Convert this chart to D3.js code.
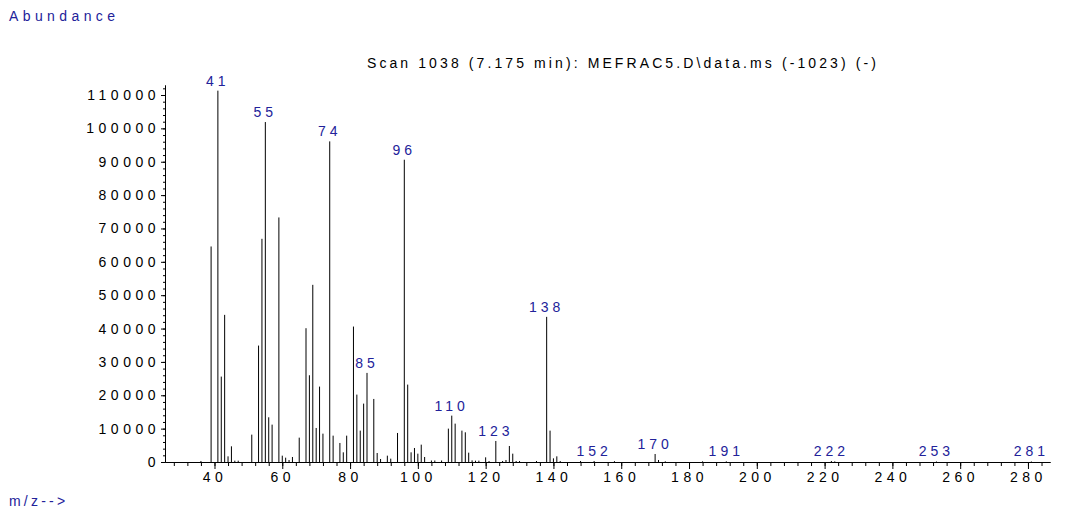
<!DOCTYPE html>
<html><head><meta charset="utf-8">
<script src="https://cdn.jsdelivr.net/npm/d3@7"></script>
<style>
body{margin:0;background:#fff;}
svg{display:block;}
text{font-family:"Liberation Sans",Arial,sans-serif;}
</style></head>
<body>
<svg id="chart" width="1067" height="515"></svg>
<script>
// ---- data ----
const mz = [36,39,41,42,43,44,45,46,47,51,53,54,55,56,57,59,60,61,62,63,65,67,68,69,70,71,72,74,75,77,78,79,81,82,83,84,85,87,88,89,91,92,94,96,97,98,99,100,101,102,104,105,107,109,110,111,113,114,115,116,117,118,120,121,123,125,126,127,128,129,130,135,138,139,140,141,142,148,152,158,170,171,173,184,191,222,223,253,281];
const abundance = [300,64600,111300,25600,44100,1700,4700,400,400,8200,34900,66900,101900,13400,11200,73300,1900,1300,600,1500,7300,40100,26000,53100,10200,22600,8500,96100,7900,5700,2900,7900,40600,20200,9400,17500,26700,18900,2700,900,1900,1000,8700,90600,23200,2900,4200,2500,5200,1500,450,450,450,10000,13900,11500,9400,8900,2800,500,400,400,1400,300,6300,300,600,4800,2500,300,300,300,43500,9400,1100,1700,300,300,300,250,2400,600,200,200,200,300,200,150,150];
const labeledPeaks = [41,55,74,85,96,110,123,138,152,170,191,222,253,281];
const xMajorTicks = [40,60,80,100,120,140,160,180,200,220,240,260,280];
const yMajorTicks = [0,10000,20000,30000,40000,50000,60000,70000,80000,90000,100000,110000];
const titleText = "Scan 1038 (7.175 min): MEFRAC5.D\\data.ms (-1023) (-)";
const yTitle = "Abundance";
const xTitle = "m/z-->";

const blue = "#22229a";
const svg = d3.select("#chart");

const x = d3.scaleLinear().domain([25.4, 286.5]).range([165, 1050]);
const y = d3.scaleLinear().domain([0, 113000]).range([462, 85]);

const tickLs = "4.5px";
const peakLs = "4px";

// x minor ticks
const xMinor = d3.range(28, 287, 4);
svg.append("g").attr("transform","translate(0,462)")
  .call(d3.axisBottom(x).tickValues(xMinor).tickSize(4).tickSizeOuter(0).tickFormat(""))
  .call(g=>g.selectAll("line,path").attr("stroke","#000"));
svg.append("g").attr("transform","translate(0,462)")
  .call(d3.axisBottom(x).tickValues(xMajorTicks).tickSize(7).tickSizeOuter(0).tickPadding(3))
  .call(g=>{g.selectAll("line,path").attr("stroke","#000");
    g.selectAll("text").attr("font-size","14px").attr("fill","#000")
     .style("letter-spacing",tickLs).attr("font-family","Liberation Sans, Arial, sans-serif");});

// y axis
const yMinor = d3.range(0, 113001, 2000);
svg.append("g").attr("transform","translate(165,0)")
  .call(d3.axisLeft(y).tickValues(yMinor).tickSize(2).tickSizeOuter(0).tickFormat(""))
  .call(g=>g.selectAll("line,path").attr("stroke","#000"));
svg.append("g").attr("transform","translate(165,0)")
  .call(d3.axisLeft(y).tickValues(yMajorTicks).tickSize(4).tickSizeOuter(0).tickPadding(1).tickFormat(d3.format("d")))
  .call(g=>{g.selectAll("line,path").attr("stroke","#000");
    g.selectAll("text").attr("font-size","14px").attr("fill","#000")
     .style("letter-spacing",tickLs).attr("font-family","Liberation Sans, Arial, sans-serif");});

// bars
const data = mz.map((m,i)=>({m, v:abundance[i]}));
svg.append("g").selectAll("line").data(data).join("line")
  .attr("x1",d=>x(d.m)).attr("x2",d=>x(d.m))
  .attr("y1",y(0)).attr("y2",d=>y(d.v))
  .attr("stroke","#000").attr("stroke-width",1);

// peak labels
svg.append("g").selectAll("text").data(data.filter(d=>labeledPeaks.includes(d.m))).join("text")
  .attr("x",d=>x(d.m)).attr("y",d=>y(d.v)-5)
  .attr("text-anchor","middle").attr("fill",blue).attr("font-size","14px")
  .style("letter-spacing",peakLs).text(d=>d.m);

// titles
svg.append("text").attr("x",623).attr("y",68).attr("text-anchor","middle")
  .attr("font-size","14px").attr("fill","#000").style("letter-spacing","3.1px").text(titleText);
svg.append("text").attr("x",9).attr("y",21).attr("font-size","14px").attr("fill",blue)
  .style("letter-spacing","4.4px").text(yTitle);
svg.append("text").attr("x",9).attr("y",506).attr("font-size","14px").attr("fill",blue)
  .style("letter-spacing","3.2px").text(xTitle);
</script>
</body></html>
